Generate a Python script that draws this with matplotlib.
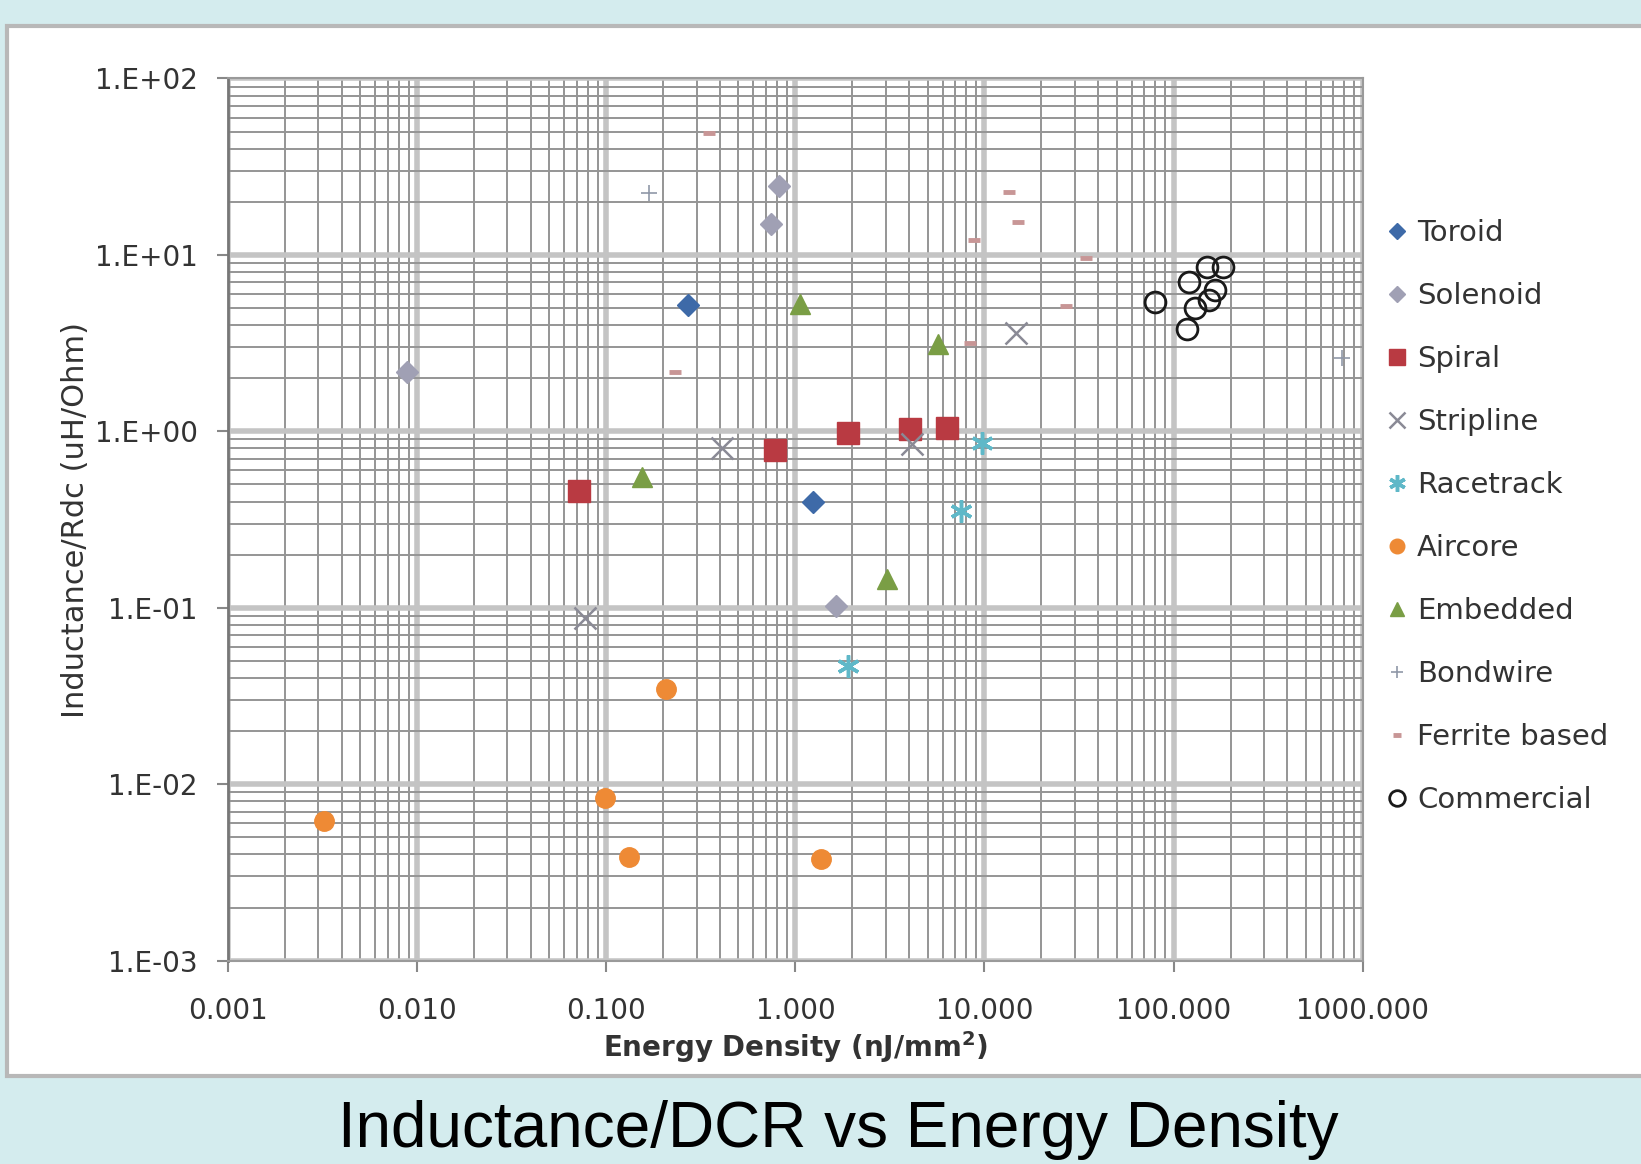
import numpy as np
import matplotlib.pyplot as plt
from matplotlib.patches import Rectangle
from matplotlib.ticker import FixedLocator, LogLocator, NullFormatter

# ------------------------------------------------------------------
# Data (energy density nJ/mm^2, L/Rdc uH/Ohm)
# ------------------------------------------------------------------
toroid_x = [0.27, 1.24]
toroid_y = [5.2, 0.40]

solenoid_x = [0.0088, 0.745, 0.815, 1.64]
solenoid_y = [2.18, 15.0, 24.5, 0.103]

spiral_x = [0.0715, 0.784, 1.89, 4.06, 6.34]
spiral_y = [0.46, 0.78, 0.975, 1.03, 1.045]

stripline_x = [0.077, 0.41, 4.16, 14.7]
stripline_y = [0.088, 0.805, 0.85, 3.62]

racetrack_x = [9.66, 7.48, 1.89]
racetrack_y = [0.863, 0.355, 0.047]

aircore_x = [0.00323, 0.098, 0.132, 0.208, 1.37]
aircore_y = [0.00615, 0.0084, 0.00387, 0.0348, 0.00376]

embedded_x = [1.06, 0.155, 5.65, 3.06]
embedded_y = [5.3, 0.55, 3.11, 0.146]

bondwire_x = [0.168, 773]
bondwire_y = [22.3, 2.6]

ferrite_x = [0.35, 0.23, 13.4, 15.1, 8.83, 34.5, 27.1, 8.39]
ferrite_y = [49, 2.18, 22.6, 15.4, 12.2, 9.55, 5.1, 3.16]

commercial_x = [80, 118, 121, 130, 150, 182, 165, 154]
commercial_y = [5.39, 3.8, 7.03, 5.0, 8.54, 8.54, 6.33, 5.55]

x_ticks = [0.001, 0.01, 0.1, 1, 10, 100, 1000]
x_labels = ["0.001", "0.010", "0.100", "1.000", "10.000", "100.000", "1000.000"]
y_ticks = [1e-3, 1e-2, 1e-1, 1, 10, 100]
y_labels = ["1.E-03", "1.E-02", "1.E-01", "1.E+00", "1.E+01", "1.E+02"]

# ------------------------------------------------------------------
# Styles
# ------------------------------------------------------------------
series = [
    ("Toroid", toroid_x, toroid_y, dict(marker="D", ms=11, color="#3e6aa8", mec="#3e6aa8")),
    ("Solenoid", solenoid_x, solenoid_y, dict(marker="D", ms=11, color="#a0a0b4", mec="#a0a0b4")),
    ("Spiral", spiral_x, spiral_y, dict(marker="s", ms=16, color="#b93a42", mec="#b93a42")),
    ("Stripline", stripline_x, stripline_y, dict(marker="x", ms=16, color="#8a8a96", mew=1.8)),
    ("Racetrack", racetrack_x, racetrack_y, dict(marker=(6, 2, 0), ms=16, color="#5fb8c8", mew=2.5)),
    ("Aircore", aircore_x, aircore_y, dict(marker="o", ms=14, color="#ee8a35", mec="#ee8a35")),
    ("Embedded", embedded_x, embedded_y, dict(marker="^", ms=14, color="#7a9e45", mec="#7a9e45")),
    ("Bondwire", bondwire_x, bondwire_y, dict(marker="+", ms=12, color="#9098a8", mew=1.2)),
    ("Ferrite based", ferrite_x, ferrite_y, dict(marker="_", ms=8, color="#c89696", mew=3.5)),
    ("Commercial", commercial_x, commercial_y, dict(marker="o", ms=15, color="none", mec="#1a1a1a", mew=2)),
]

fig = plt.figure(figsize=(16.41, 11.64), dpi=100)
fig.patch.set_facecolor("#d4ecee")

# white chart panel (behind the axes)
panel = Rectangle((0.0045, 0.076), 1.0, 0.902, transform=fig.transFigure,
                  facecolor="white", edgecolor="#b8b8b8", linewidth=3, zorder=-10)
fig.add_artist(panel)

ax = fig.add_axes([0.139, 0.1747, 0.6914, 0.7579])
ax.set_zorder(1)
ax.set_xscale("log")
ax.set_yscale("log")
ax.set_xlim(0.001, 1000)
ax.set_ylim(0.001, 100)

ax.xaxis.set_major_locator(FixedLocator(x_ticks))
ax.set_xticklabels(x_labels)
ax.yaxis.set_major_locator(FixedLocator(y_ticks))
ax.set_yticklabels(y_labels)
ax.xaxis.set_minor_locator(LogLocator(base=10, subs=np.arange(2, 10)))
ax.yaxis.set_minor_locator(LogLocator(base=10, subs=np.arange(2, 10)))
ax.xaxis.set_minor_formatter(NullFormatter())
ax.yaxis.set_minor_formatter(NullFormatter())

ax.grid(which="major", color="#c4c4c4", linewidth=4)
ax.grid(which="minor", color="#959595", linewidth=1.4)
ax.set_axisbelow(True)

ax.tick_params(which="major", direction="out", length=8, width=1.5, color="#888888",
               labelsize=20, labelcolor="#333333")
ax.tick_params(axis="x", which="major", pad=18)
ax.tick_params(axis="y", which="major", pad=14)
ax.tick_params(which="minor", length=0)
for sp in ax.spines.values():
    sp.set_color("#9a9a9a")
    sp.set_linewidth(1.5)
ax.spines["left"].set_color("#777777")
ax.spines["left"].set_linewidth(2)

for name, xs, ys, st in series:
    ax.plot(xs, ys, linestyle="none", label=name, **st)

ax.set_xlabel("Energy Density (nJ/mm$^\\mathbf{2}$)", fontsize=20, fontweight="bold",
              color="#333333", labelpad=3)
ax.set_ylabel("Inductance/Rdc (uH/Ohm)", fontsize=22, color="#333333", labelpad=3)

leg = fig.legend(loc="upper left", bbox_to_anchor=(0.828, 0.834), frameon=False,
                 fontsize=21, labelspacing=1.2, handlelength=0.8, handletextpad=0.3,
                 markerscale=0.75)
for t in leg.get_texts():
    t.set_color("#333333")

fig.text(0.511, 0.029, "Inductance/DCR vs Energy Density", ha="center", va="center",
         fontsize=46, family="Liberation Sans", color="black")

fig.savefig("out.png", dpi=100, facecolor=fig.get_facecolor())
